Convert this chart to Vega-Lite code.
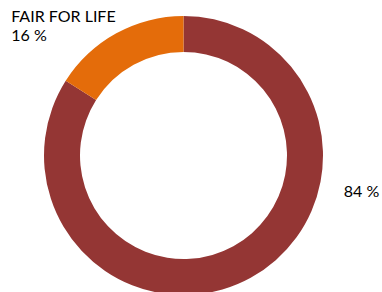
{
  "$schema": "https://vega.github.io/schema/vega-lite/v6.json",
  "width": 367,
  "height": 273,
  "autosize": {"type": "none"},
  "padding": {"left": 0, "top": 19, "right": 15, "bottom": 0},
  "background": "white",
  "config": {"view": {"stroke": null}},
  "data": {
    "values": [
      {"category": "Other", "idx": 1, "share": 84, "label": "84 %"},
      {"category": "FAIR FOR LIFE", "idx": 2, "share": 16, "label": "FAIR FOR LIFE\n16 %"}
    ]
  },
  "encoding": {
    "theta": {"field": "share", "type": "quantitative", "stack": true},
    "order": {"field": "idx", "type": "quantitative", "sort": "ascending"}
  },
  "layer": [
    {
      "mark": {"type": "arc", "outerRadius": 139.5, "innerRadius": 103.5},
      "encoding": {
        "color": {
          "field": "category",
          "type": "nominal",
          "scale": {"domain": ["Other", "FAIR FOR LIFE"], "range": ["#943634", "#E46C0A"]},
          "legend": null
        }
      }
    },
    {
      "mark": {"type": "text", "radius": 150, "align": "left", "baseline": "alphabetic", "font": "Lato", "fontSize": 16, "fill": "#000000", "lineBreak": "\n", "lineHeight": 19, "dx": -100, "dy": -2},
      "encoding": {
        "text": {"condition": {"test": "datum.category === 'FAIR FOR LIFE'", "field": "label"}, "value": ""}
      }
    },
    {
      "mark": {"type": "text", "radius": 150, "align": "left", "baseline": "alphabetic", "font": "Lato", "fontSize": 16, "fill": "#000000", "dx": 88, "dy": -90},
      "encoding": {
        "text": {"condition": {"test": "datum.category === 'Other'", "field": "label"}, "value": ""}
      }
    }
  ]
}
